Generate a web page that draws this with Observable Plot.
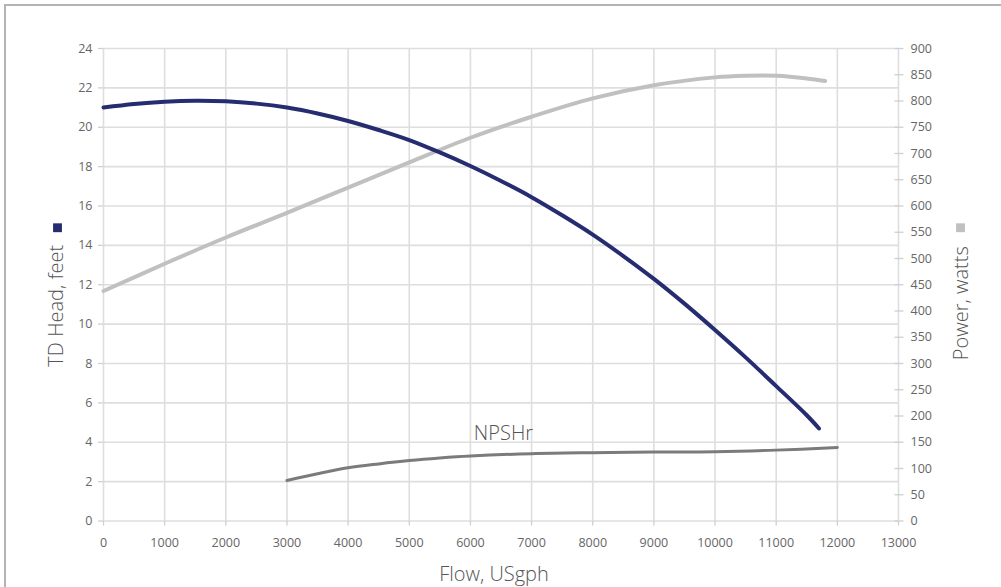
<!DOCTYPE html>
<html><head><meta charset="utf-8">
<script src="https://cdn.jsdelivr.net/npm/d3@7"></script>
<script src="https://cdn.jsdelivr.net/npm/@observablehq/plot@0.6"></script>
<style>
body{margin:0;background:#fff}
#frame{position:absolute;left:4px;top:4px;width:997px;height:583px;border-top:2px solid #b4b4b4;border-left:2px solid #b4b4b4;box-sizing:border-box}
#chart{position:absolute;left:0;top:0}
</style></head><body>
<div id="frame"></div><div id="chart"></div>
<script>
// Tick values
const flowTicks = [0,1000,2000,3000,4000,5000,6000,7000,8000,9000,10000,11000,12000,13000];
const headTicks = [0,2,4,6,8,10,12,14,16,18,20,22,24];
const powerTicks = [0,50,100,150,200,250,300,350,400,450,500,550,600,650,700,750,800,850,900];
const wattsPerFoot = 900 / 24;

// Head curve (feet)
const headFlow = [0,500,1000,1500,2000,2500,3000,3500,4000,4500,5000,5500,6000,6500,7000,7500,8000,8500,9000,9500,10000,10500,11000,11500,11700];
const headFeet = [21.0,21.18,21.3,21.35,21.32,21.2,21.0,20.7,20.32,19.86,19.35,18.72,18.03,17.27,16.45,15.53,14.55,13.46,12.3,11.04,9.7,8.31,6.85,5.37,4.7];

// Power curve (watts)
const powerFlow = [0,1000,2000,3000,4000,5000,6000,7000,8000,9000,10000,10500,11000,11500,11800];
const powerWatts = [438,490,540,587,635,683,730,770,805,830,845,848,848,843,838];

// NPSHr curve (feet)
const npshFlow = [3000,3500,4000,4500,5000,5500,6000,7000,8000,9000,10000,11000,12000];
const npshFeet = [2.06,2.4,2.7,2.9,3.07,3.2,3.3,3.42,3.47,3.5,3.52,3.6,3.73];

const npshLabel = [{flow: 6540, feet: 4.42, text: "NPSHr"}];

const head = headFlow.map((f,i)=>({flow:f, v:headFeet[i]}));
const power = powerFlow.map((f,i)=>({flow:f, v:powerWatts[i]}));
const npsh = npshFlow.map((f,i)=>({flow:f, v:npshFeet[i]}));

const navy = "#262c70", lightGrey = "#c0c0c0", darkGrey = "#7b7b7b";
const grid = "#dedede", tickC = "#cfcfcf", txt = "#666", lab = "#555";
const font = "'Open Sans', sans-serif";
const fmt = d3.format("d");
const none = () => "";

const chart = Plot.plot({
  width: 1001, height: 587,
  marginLeft: 103, marginRight: 103, marginTop: 48, marginBottom: 66.5,
  style: {fontFamily: font, fontSize: "12.5px", color: txt, background: "transparent"},
  x: {domain: [0, 13000], axis: null},
  y: {domain: [0, 24], axis: null},
  marks: [
    Plot.ruleX(flowTicks, {x: d => d, stroke: grid, strokeWidth: 1.6}),
    Plot.ruleY(headTicks, {y: d => d, stroke: grid, strokeWidth: 1.6}),
    // bottom axis
    Plot.axisX(flowTicks, {anchor: "bottom", label: null, tickSize: 5, tickFormat: none, stroke: tickC, strokeWidth: 1.3}),
    Plot.axisX(flowTicks, {anchor: "bottom", label: null, tickSize: 0, tickPadding: 17, tickFormat: fmt, fill: txt, fontSize: 12.5}),
    // left axis
    Plot.axisY(headTicks, {anchor: "left", label: null, tickSize: 5, tickFormat: none, stroke: tickC, strokeWidth: 1.3}),
    Plot.axisY(headTicks, {anchor: "left", label: null, tickSize: 0, tickPadding: 11, tickFormat: fmt, fill: txt, fontSize: 12.5}),
    // right axis (watts)
    Plot.axisY(powerTicks, {y: d => d / wattsPerFoot, anchor: "right", label: null, tickSize: 9, dx: -4.5, tickFormat: none, stroke: tickC, strokeWidth: 1.3}),
    Plot.axisY(powerTicks, {y: d => d / wattsPerFoot, anchor: "right", label: null, tickSize: 0, tickPadding: 12, tickFormat: d => String(d), fill: txt, fontSize: 12.5}),
    // curves
    Plot.line(npsh, {x: "flow", y: "v", curve: "catmull-rom", stroke: darkGrey, strokeWidth: 3}),
    Plot.line(power, {x: "flow", y: d => d.v / wattsPerFoot, curve: "catmull-rom", stroke: lightGrey, strokeWidth: 4}),
    Plot.line(head, {x: "flow", y: "v", curve: "catmull-rom", stroke: navy, strokeWidth: 4}),
    // labels
    Plot.text(npshLabel, {x: "flow", y: "feet", text: "text", fontSize: 20, fill: lab, fontWeight: 300}),
    Plot.text(["TD Head, feet"], {frameAnchor: "left", textAnchor: "middle", lineAnchor: "middle", rotate: -90, dx: -46.5, dy: 21, fontSize: 20, fill: lab, fontWeight: 300}),
    Plot.dot([0], {frameAnchor: "left", symbol: "square", r: 5, fill: navy, dx: -46, dy: -57}),
    Plot.text(["Power, watts"], {frameAnchor: "right", textAnchor: "middle", lineAnchor: "middle", rotate: -90, dx: 63, dy: 18.5, fontSize: 20, fill: lab, fontWeight: 300}),
    Plot.dot([0], {frameAnchor: "right", symbol: "square", r: 5, fill: lightGrey, dx: 62, dy: -57}),
    Plot.text(["Flow, USgph"], {frameAnchor: "bottom", textAnchor: "middle", lineAnchor: "middle", dx: -7, dy: 54, fontSize: 20, fill: lab, fontWeight: 300})
  ]
});
document.getElementById("chart").appendChild(chart);
</script>
</body></html>
